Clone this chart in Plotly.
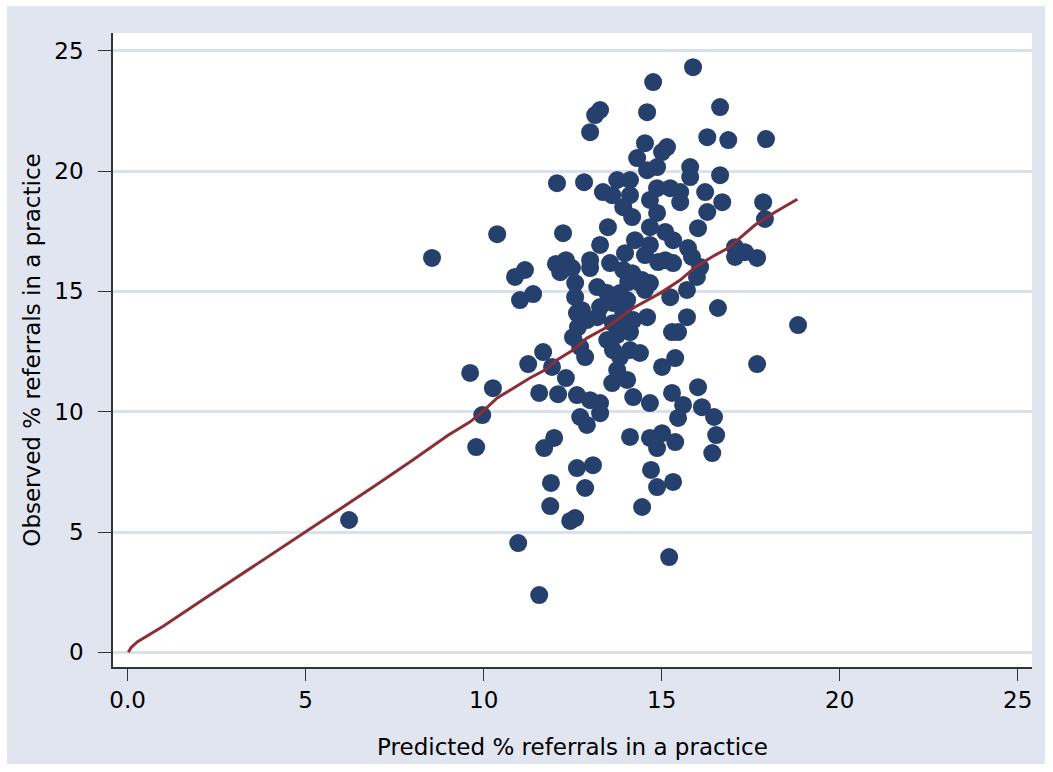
import plotly.graph_objects as go

# Practice-level referral percentages: predicted (x) vs observed (y)
predicted = [
    15.88, 14.76, 13.27, 13.13, 14.59, 16.64, 12.99, 16.28, 16.87, 17.93,
    14.53, 15.15, 15.01, 14.31, 14.59, 14.87, 15.80, 15.80, 16.64, 12.06,
    12.82, 13.35, 13.61, 13.75, 14.11, 14.11, 16.22, 14.87, 15.24, 15.52,
    13.92, 14.17, 14.67, 15.52, 14.87, 16.70, 16.28, 16.02, 17.85, 17.90,
    13.49, 13.27, 14.25, 14.67, 14.67, 15.10, 15.32, 10.38, 12.23, 14.53,
    14.90, 13.97, 15.74, 15.85, 17.06, 17.34, 17.68, 17.06, 16.08, 8.55,
    12.03, 12.31, 12.48, 12.15, 12.99, 12.99, 13.55, 10.88, 11.16, 11.02,
    11.39, 12.57, 12.57, 12.62, 12.65, 13.92, 14.17, 14.06, 14.45, 14.53,
    15.10, 15.32, 15.24, 15.71, 15.71, 14.59, 13.19, 13.47, 13.83, 13.27,
    13.63, 13.92, 16.58, 18.83, 15.99, 12.76, 12.90, 13.19, 12.51, 12.71,
    12.85, 13.63, 13.83, 13.47, 13.63, 13.83, 14.11, 14.39, 14.20, 14.11,
    13.75, 14.39, 14.67, 14.03, 15.29, 15.46, 15.01, 15.38, 13.61, 14.03,
    13.75, 14.20, 14.67, 15.29, 15.60, 15.46, 16.02, 16.13, 16.47, 16.53,
    16.42, 17.68, 12.71, 12.90, 13.27, 13.27, 12.99, 12.62, 14.11, 14.67,
    15.01, 14.87, 15.38, 12.62, 13.07, 14.70, 11.89, 12.85, 14.87, 15.32,
    11.87, 14.45, 12.57, 12.43, 10.97, 11.56, 15.21, 6.22, 9.62, 10.26,
    9.96, 9.79, 11.67, 11.25, 11.92, 11.56, 12.09, 12.31, 11.98, 11.70,
]
observed = [
    24.32, 23.70, 22.54, 22.33, 22.45, 22.66, 21.62, 21.41, 21.29, 21.33,
    21.16, 21.00, 20.79, 20.54, 20.04, 20.17, 20.17, 19.75, 19.83, 19.50,
    19.54, 19.13, 19.00, 19.63, 19.63, 19.00, 19.13, 19.29, 19.29, 19.13,
    18.50, 18.09, 18.80, 18.71, 18.26, 18.71, 18.30, 17.63, 18.71, 18.01,
    17.67, 16.93, 17.13, 17.67, 16.93, 17.47, 17.13, 17.38, 17.42, 16.51,
    16.22, 16.59, 16.80, 16.43, 16.84, 16.63, 16.39, 16.43, 16.01, 16.39,
    16.14, 16.30, 15.97, 15.80, 16.30, 15.97, 16.18, 15.60, 15.89, 14.64,
    14.89, 15.35, 14.76, 14.10, 13.52, 15.89, 15.76, 15.39, 15.47, 15.06,
    16.30, 16.18, 14.76, 15.06, 13.93, 13.93, 15.18, 14.93, 14.93, 14.35,
    14.52, 14.10, 14.31, 13.60, 15.60, 14.22, 13.81, 13.93, 13.10, 12.69,
    12.27, 13.68, 13.52, 12.98, 12.56, 12.27, 12.56, 12.44, 13.81, 13.31,
    13.19, 15.35, 15.35, 14.64, 13.31, 13.31, 11.86, 12.23, 11.19, 11.32,
    11.73, 10.61, 10.36, 10.78, 10.28, 9.74, 11.02, 10.19, 9.78, 9.03,
    8.28, 11.98, 9.78, 9.45, 9.94, 10.36, 10.48, 10.69, 8.95, 8.91,
    9.11, 8.49, 8.74, 7.66, 7.78, 7.58, 7.04, 6.83, 6.87, 7.08,
    6.08, 6.04, 5.58, 5.46, 4.54, 2.38, 3.96, 5.50, 11.61, 10.98,
    9.86, 8.53, 12.48, 11.98, 11.86, 10.78, 10.73, 11.40, 8.91, 8.49,
]

# Smoothed calibration curve of observed on predicted
smooth_x = [0.02, 0.10, 0.28, 1.00, 2.08, 3.00, 4.00, 5.00, 6.00, 7.00, 8.00,
            8.50, 9.00, 9.62, 9.96, 10.38, 10.83, 11.30, 11.72, 12.06, 12.51,
            12.90, 13.47, 14.20, 14.96, 15.52, 15.94, 16.50, 16.87, 17.62,
            18.19, 18.81]
smooth_y = [0.00, 0.20, 0.44, 1.08, 2.15, 3.05, 4.03, 5.00, 5.98, 6.97, 7.98,
            8.49, 9.02, 9.58, 9.99, 10.57, 10.98, 11.40, 11.73, 12.15, 12.56,
            13.06, 13.52, 14.31, 14.93, 15.47, 16.01, 16.51, 16.80, 17.76,
            18.30, 18.83]

x_ticks = [0, 5, 10, 15, 20, 25]
x_tick_text = ["0.0", "5", "10", "15", "20", "25"]
y_ticks = [0, 5, 10, 15, 20, 25]

NAVY = "#26406E"
MAROON = "#8C2F35"
BG = "#E1E5F0"
GRID = "#DAE0EE"
FONT = "DejaVu Sans, Arial, sans-serif"
FS = 23

fig = go.Figure()
fig.add_trace(go.Scatter(
    x=predicted, y=observed, mode="markers",
    marker=dict(size=18, color=NAVY, line=dict(width=0)),
    showlegend=False, hoverinfo="skip",
))
fig.add_trace(go.Scatter(
    x=smooth_x, y=smooth_y, mode="lines",
    line=dict(color=MAROON, width=3),
    showlegend=False, hoverinfo="skip",
))

# plot region occupies 113..1032 px horizontally, 33..667 px vertically
L, R, T, B = 113, 1032, 33, 667
W, H = 1053, 772
pw, ph = R - L, B - T

def px_x(p):
    return (p - L) / pw

def px_y(p):
    return (B - p) / ph

# light graph region framed by a thin white border
fig.add_shape(type="rect", xref="paper", yref="paper", layer="below",
              x0=px_x(7), x1=px_x(1045), y0=px_y(764), y1=px_y(6),
              fillcolor=BG, line=dict(width=0))
fig.add_shape(type="rect", xref="paper", yref="paper", layer="below",
              x0=0, x1=1, y0=0, y1=1,
              fillcolor="white", line=dict(width=0))

fig.update_layout(
    width=W, height=H,
    margin=dict(l=L, r=W - R, t=T, b=H - B, pad=0),
    paper_bgcolor="white",
    plot_bgcolor="white",
    font=dict(family=FONT, size=FS, color="black"),
    xaxis=dict(
        range=[-0.41, 25.40],
        tickvals=x_ticks, ticktext=x_tick_text,
        ticks="outside", ticklen=12, tickwidth=1.2, tickcolor="#333333",
        showline=True, linecolor="#333333", linewidth=1.5,
        showgrid=False, zeroline=False,
        tickfont=dict(size=FS),
        title=dict(text="Predicted % referrals in a practice",
                   font=dict(size=FS), standoff=27),
        automargin=False,
    ),
    yaxis=dict(
        range=[-0.61, 25.74],
        tickvals=y_ticks,
        ticks="outside", ticklen=13, tickwidth=1.2, tickcolor="#333333",
        showline=True, linecolor="#333333", linewidth=1.5,
        showgrid=True, gridcolor=GRID, gridwidth=2.5,
        zeroline=False,
        tickfont=dict(size=FS), ticklabelstandoff=10,
        title=dict(text="Observed % referrals in a practice",
                   font=dict(size=FS), standoff=7),
        automargin=False,
    ),
)

fig.write_html("out.html")
